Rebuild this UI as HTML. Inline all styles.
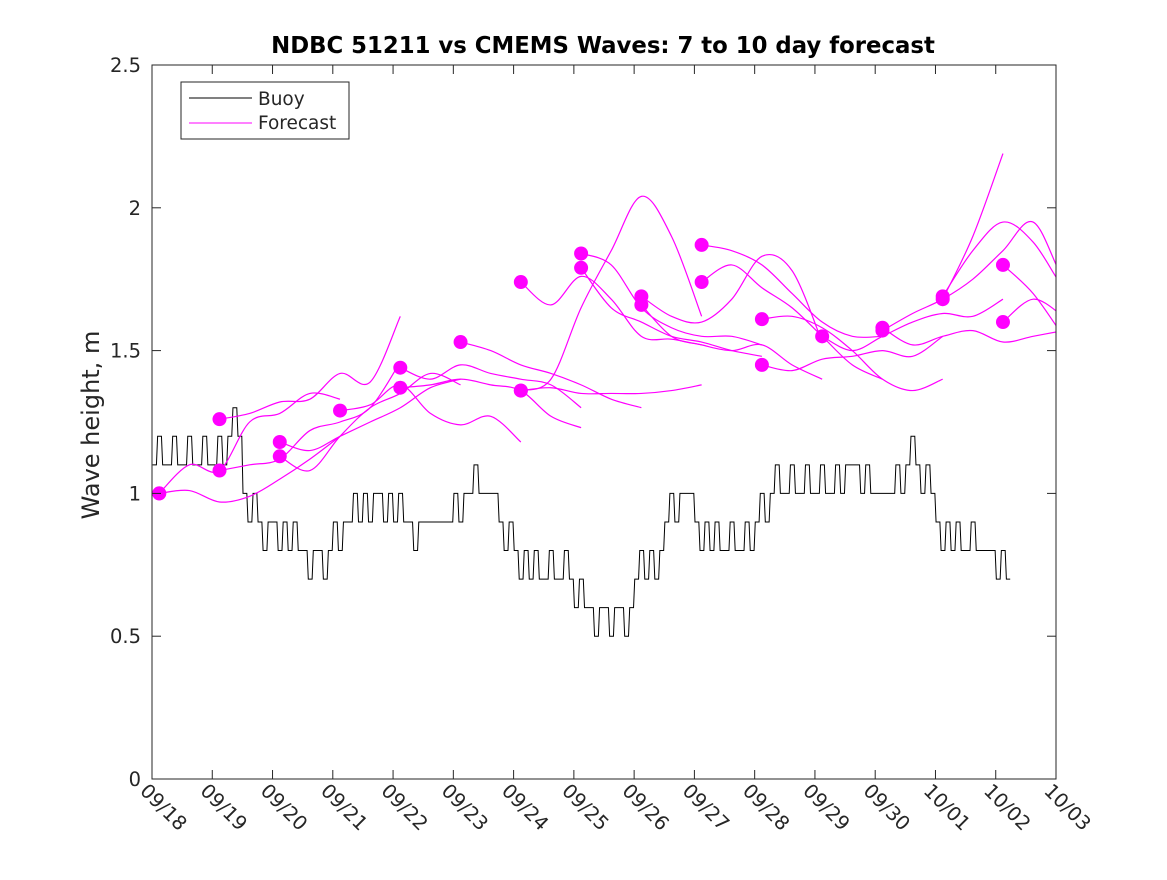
<!DOCTYPE html>
<html><head><meta charset="utf-8"><style>
body{margin:0;background:#fff;}
svg text{font-family:"DejaVu Sans","Liberation Sans",sans-serif;fill:#262626;}
</style></head><body>
<svg id="chart" width="1167" height="875" xmlns="http://www.w3.org/2000/svg">
<defs><clipPath id="clip"><rect x="152" y="65" width="904" height="714"/></clipPath></defs>
<rect x="0" y="0" width="1167" height="875" fill="#fff"/>
<text x="603" y="53" text-anchor="middle" font-size="22.8" font-weight="bold" style="fill:#000">NDBC 51211 vs CMEMS Waves: 7 to 10 day forecast</text>
<text transform="translate(99,425) rotate(-90)" text-anchor="middle" font-size="24">Wave height, m</text>
<g id="plot" clip-path="url(#clip)"></g>
<rect x="152" y="65" width="904" height="714" fill="none" stroke="#262626" stroke-width="1"/>
<g id="axes"></g>
<g>
<rect x="181" y="82" width="168" height="57" fill="#fff" stroke="#262626" stroke-width="1"/>
<line x1="189" y1="98" x2="252" y2="98" stroke="#000" stroke-width="1"/>
<text x="258" y="105" font-size="18.5">Buoy</text>
<line x1="189" y1="123" x2="252" y2="123" stroke="#ff00ff" stroke-width="1"/>
<text x="258" y="129" font-size="18.5">Forecast</text>
</g>
</svg>
<script>
const xTickLabels=["09/18","09/19","09/20","09/21","09/22","09/23","09/24","09/25","09/26","09/27","09/28","09/29","09/30","10/01","10/02","10/03"];
const yTicks=[0,0.5,1,1.5,2,2.5];
const yTickLabels=["0","0.5","1","1.5","2","2.5"];
const buoyStep=0.25;
const buoyValues=[1.1,1.1,1.1,1.1,1.1,1.2,1.0,0.9,0.9,0.8,0.8,0.8,0.9,0.9,1.0,1.0,0.9,0.9,0.9,0.9,1.0,1.0,1.0,0.9,0.8,0.7,0.7,0.7,0.6,0.6,0.6,0.6,0.7,0.8,0.9,1.0,0.9,0.8,0.8,0.8,0.9,1.0,1.0,1.0,1.0,1.0,1.1,1.0,1.0,1.0,1.1,1.0,0.9,0.8,0.8,0.8,0.7];
const buoyNoise=[1,1,1,1,1,1,-1,-1,-1,1,-1,-1,-1,1,-1,-1,1,-1,0,0,-1,1,0,-1,-1,1,1,1,1,-1,-1,-1,1,-1,1,0,-1,1,1,1,1,1,1,1,1,1,0,1,0,1,1,1,-1,1,1,0,1];
const fcStep=0.5;
const fcStarts=[0.12,0.12,1.12,1.12,2.12,2.12,3.12,4.12,4.12,5.12,6.12,6.12,6.12,7.12,7.12,8.12,8.12,9.12,9.12,10.12,10.12,11.12,12.12,12.12,13.12,13.12,14.12,14.12];
const fcValues=[
[1.0,1.1,1.08,1.25,1.28,1.35,1.33],
[1.0,1.01,0.97,0.99,1.05,1.12,1.2],
[1.26,1.28,1.32,1.33,1.42,1.39,1.62],
[1.08,1.1,1.12,1.22,1.25,1.3,1.46],
[1.18,1.15,1.2,1.25,1.3,1.37,1.4],
[1.13,1.08,1.2,1.3,1.35,1.42,1.38],
[1.29,1.31,1.38,1.28,1.24,1.27,1.18],
[1.44,1.40,1.45,1.42,1.40,1.38,1.30],
[1.37,1.38,1.40,1.38,1.36,1.27,1.23],
[1.53,1.5,1.45,1.42,1.38,1.33,1.30],
[1.74,1.66,1.76,1.68,1.55,1.54,1.52],
[1.36,1.37,1.35,1.35,1.35,1.36,1.38],
[1.36,1.40,1.65,1.85,2.04,1.90,1.62],
[1.84,1.80,1.65,1.58,1.55,1.55,1.52],
[1.79,1.65,1.60,1.55,1.53,1.50,1.48],
[1.69,1.62,1.60,1.68,1.83,1.78,1.53],
[1.66,1.55,1.52,1.50,1.52,1.45,1.40],
[1.87,1.85,1.80,1.70,1.60,1.55,1.55],
[1.74,1.80,1.72,1.65,1.55,1.45,1.40],
[1.61,1.62,1.58,1.50,1.40,1.36,1.40],
[1.45,1.43,1.47,1.48,1.50,1.48,1.55],
[1.55,1.50,1.55,1.60,1.63,1.62,1.68],
[1.58,1.52,1.55,1.57,1.53,1.55,1.57],
[1.57,1.63,1.68,1.75,1.85,1.95,1.75,1.6],
[1.69,1.85,1.95,1.88,1.72,1.6],
[1.68,1.9,2.19],
[1.80,1.70,1.55],
[1.60,1.68,1.62]];
const NS="http://www.w3.org/2000/svg";
const X0=152,X1=1056,Y0=779,Y1=65;
function xs(d){return X0+d*(X1-X0)/15;}
function ys(v){return Y0-v*(Y0-Y1)/2.5;}
const plot=document.getElementById('plot'),axes=document.getElementById('axes');
function mk(tag,attrs,parent){const e=document.createElementNS(NS,tag);for(const k in attrs)e.setAttribute(k,attrs[k]);parent.appendChild(e);return e;}
yTicks.forEach((v,i)=>{
 const y=ys(v);
 const t=mk('line',{x1:X0,x2:X0+9,y1:y,y2:y,stroke:'#262626'},axes);
 
 
 const t2=mk('line',{x1:X1,x2:X1-9,y1:y,y2:y,stroke:'#262626'},axes);
 
 
 const l=mk('text',{x:X0-11,y:y+7,'text-anchor':'end','font-size':19.5},axes);
 l.textContent=yTickLabels[i];
 
 
});
xTickLabels.forEach((s,i)=>{
 const x=xs(i);
 const t=mk('line',{x1:x,x2:x,y1:Y0,y2:Y0-9,stroke:'#262626'},axes);
 
 
 const t2=mk('line',{x1:x,x2:x,y1:Y1,y2:Y1+9,stroke:'#262626'},axes);
 
 
 const l=mk('text',{transform:`translate(${x-13},${Y0+13}) rotate(45)`,'font-size':19.5},axes);
 l.textContent=s;
 
 
});
let pts=[];
buoyValues.forEach((v,i)=>{
 const d0=i*buoyStep,d1=(i+1)*buoyStep;
 const alt=v+0.1*buoyNoise[i];
 const n=3;
 for(let k=0;k<n;k++){
  const da=d0+(d1-d0)*k/n, db=d0+(d1-d0)*(k+1)/n;
  const val=(k===1)?alt:v;
  pts.push([xs(da)+0.6,ys(val)]);pts.push([xs(db)-0.6,ys(val)]);
 }
});
const bl=mk('polyline',{points:pts.map(p=>p.join(',')).join(' '),fill:'none',stroke:'#000','stroke-width':1},plot);


function smooth(p){
 let d='M'+p[0][0]+','+p[0][1];
 for(let i=0;i<p.length-1;i++){
  const p0=p[i-1]||p[i],p1=p[i],p2=p[i+1],p3=p[i+2]||p2;
  const c1=[p1[0]+(p2[0]-p0[0])/6,p1[1]+(p2[1]-p0[1])/6];
  const c2=[p2[0]-(p3[0]-p1[0])/6,p2[1]-(p3[1]-p1[1])/6];
  d+=` C${c1[0]},${c1[1]} ${c2[0]},${c2[1]} ${p2[0]},${p2[1]}`;
 }
 return d;
}
fcValues.forEach((vals,i)=>{
 const s=fcStarts[i];
 const p=vals.map((v,j)=>[xs(s+j*fcStep),ys(v)]);
 const pl=mk('path',{d:smooth(p),fill:'none',stroke:'#ff00ff','stroke-width':1.2},plot);
 
 
});
fcValues.forEach((vals,i)=>{
 const c=mk('circle',{cx:xs(fcStarts[i]),cy:ys(vals[0]),r:7,fill:'#ff00ff'},plot);
 
 
});
</script>
</body></html>
